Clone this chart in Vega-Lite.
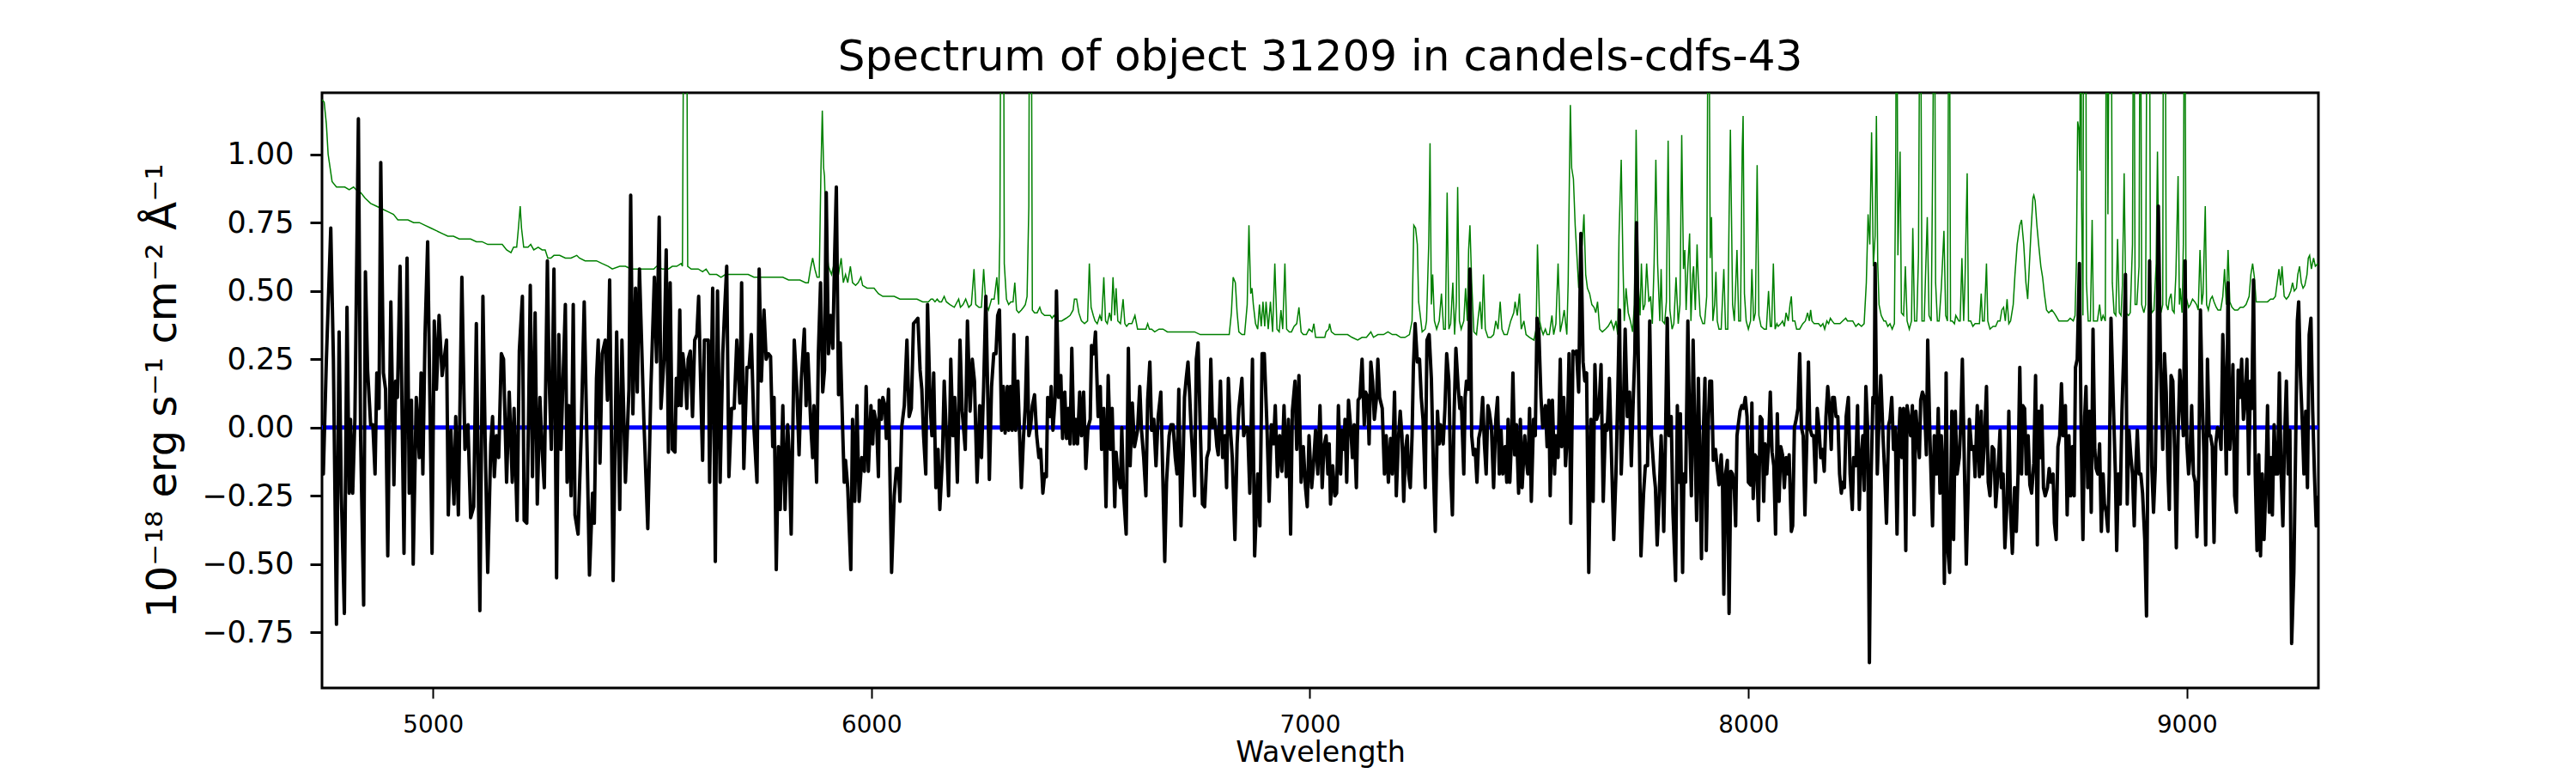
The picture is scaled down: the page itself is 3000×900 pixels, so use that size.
{
  "$schema": "https://vega.github.io/schema/vega-lite/v6.json",
  "autosize": {"type": "none"},
  "width": 2325,
  "height": 693,
  "padding": {"left": 375, "top": 108, "right": 300, "bottom": 99},
  "background": "white",
  "title": {
    "text": "Spectrum of object 31209 in candels-cdfs-43",
    "font": "DejaVu Sans",
    "fontSize": 50,
    "fontWeight": "normal",
    "color": "#000000",
    "anchor": "middle",
    "baseline": "alphabetic",
    "offset": -24
  },
  "config": {
    "font": "DejaVu Sans",
    "view": {"stroke": "#000000", "strokeWidth": 3},
    "axis": {
      "grid": false,
      "domain": false,
      "labelColor": "#000000",
      "tickColor": "#000000",
      "titleColor": "#000000",
      "labelFont": "DejaVu Sans",
      "titleFont": "DejaVu Sans",
      "titleFontWeight": "normal",
      "labelOverlap": false,
      "labelBound": false,
      "labelFlush": false
    },
    "axisX": {"labelFontSize": 27.8, "tickSize": 12, "tickWidth": 2, "labelPadding": 17, "titleFontSize": 33.3, "titlePadding": 3},
    "axisY": {"labelFontSize": 35, "tickSize": 14, "tickWidth": 3, "labelPadding": 19, "titleFontSize": 48, "titlePadding": 20}
  },
  "datasets": {
    "noise": [
      {"wave":4747,"noise":1.20},{"wave":4752,"noise":1.19},{"wave":4757,"noise":1.11},{"wave":4761,"noise":1.00},{"wave":4770,"noise":0.90},{"wave":4780,"noise":0.88},{"wave":4789,"noise":0.88},{"wave":4799,"noise":0.88},{"wave":4809,"noise":0.87},{"wave":4819,"noise":0.88},{"wave":4825,"noise":0.87},{"wave":4835,"noise":0.86},{"wave":4845,"noise":0.84},{"wave":4858,"noise":0.82},{"wave":4871,"noise":0.81},{"wave":4884,"noise":0.80},{"wave":4897,"noise":0.79},{"wave":4910,"noise":0.78},{"wave":4920,"noise":0.76},{"wave":4930,"noise":0.76},{"wave":4943,"noise":0.76},{"wave":4956,"noise":0.75},{"wave":4969,"noise":0.75},{"wave":4982,"noise":0.74},{"wave":4995,"noise":0.73},{"wave":5008,"noise":0.72},{"wave":5021,"noise":0.71},{"wave":5034,"noise":0.70},{"wave":5047,"noise":0.70},{"wave":5060,"noise":0.69},{"wave":5073,"noise":0.69},{"wave":5086,"noise":0.69},{"wave":5099,"noise":0.68},{"wave":5112,"noise":0.68},{"wave":5125,"noise":0.67},{"wave":5139,"noise":0.67},{"wave":5158,"noise":0.67},{"wave":5168,"noise":0.65},{"wave":5178,"noise":0.64},{"wave":5184,"noise":0.66},{"wave":5191,"noise":0.66},{"wave":5195,"noise":0.73},{"wave":5199,"noise":0.81},{"wave":5202,"noise":0.73},{"wave":5207,"noise":0.66},{"wave":5217,"noise":0.66},{"wave":5223,"noise":0.67},{"wave":5230,"noise":0.65},{"wave":5240,"noise":0.66},{"wave":5249,"noise":0.65},{"wave":5256,"noise":0.65},{"wave":5262,"noise":0.62},{"wave":5269,"noise":0.62},{"wave":5276,"noise":0.63},{"wave":5289,"noise":0.63},{"wave":5302,"noise":0.62},{"wave":5315,"noise":0.62},{"wave":5328,"noise":0.63},{"wave":5334,"noise":0.62},{"wave":5347,"noise":0.61},{"wave":5360,"noise":0.61},{"wave":5373,"noise":0.61},{"wave":5386,"noise":0.60},{"wave":5400,"noise":0.59},{"wave":5409,"noise":0.58},{"wave":5426,"noise":0.59},{"wave":5439,"noise":0.59},{"wave":5452,"noise":0.58},{"wave":5465,"noise":0.58},{"wave":5478,"noise":0.58},{"wave":5491,"noise":0.58},{"wave":5504,"noise":0.58},
      {"wave":5510,"noise":0.59},{"wave":5523,"noise":0.58},{"wave":5537,"noise":0.58},{"wave":5546,"noise":0.59},{"wave":5556,"noise":0.59},{"wave":5566,"noise":0.60},{"wave":5569,"noise":0.59},{"wave":5573,"noise":2.0},{"wave":5578,"noise":2.0},{"wave":5581,"noise":0.59},{"wave":5589,"noise":0.58},{"wave":5595,"noise":0.58},{"wave":5605,"noise":0.58},{"wave":5615,"noise":0.57},{"wave":5623,"noise":0.58},{"wave":5631,"noise":0.56},{"wave":5641,"noise":0.56},{"wave":5647,"noise":0.56},{"wave":5657,"noise":0.55},{"wave":5667,"noise":0.56},{"wave":5680,"noise":0.56},{"wave":5693,"noise":0.56},{"wave":5706,"noise":0.56},{"wave":5719,"noise":0.56},{"wave":5732,"noise":0.55},{"wave":5745,"noise":0.55},{"wave":5758,"noise":0.55},{"wave":5771,"noise":0.55},{"wave":5784,"noise":0.55},{"wave":5798,"noise":0.55},{"wave":5811,"noise":0.54},{"wave":5824,"noise":0.54},{"wave":5837,"noise":0.54},{"wave":5850,"noise":0.53},{"wave":5856,"noise":0.53},{"wave":5861,"noise":0.58},{"wave":5866,"noise":0.62},{"wave":5871,"noise":0.58},{"wave":5876,"noise":0.55},{"wave":5881,"noise":0.55},{"wave":5885,"noise":0.95},{"wave":5888,"noise":1.16},{"wave":5891,"noise":0.95},{"wave":5893,"noise":0.92},{"wave":5897,"noise":0.67},{"wave":5902,"noise":0.59},{"wave":5909,"noise":0.56},{"wave":5915,"noise":0.60},{"wave":5920,"noise":0.55},{"wave":5925,"noise":0.56},{"wave":5931,"noise":0.62},{"wave":5936,"noise":0.53},{"wave":5941,"noise":0.56},{"wave":5946,"noise":0.53},{"wave":5952,"noise":0.59},{"wave":5957,"noise":0.53},{"wave":5964,"noise":0.52},{"wave":5970,"noise":0.53},{"wave":5976,"noise":0.55},{"wave":5980,"noise":0.52},{"wave":5990,"noise":0.51},{"wave":6000,"noise":0.51},{"wave":6006,"noise":0.51},{"wave":6016,"noise":0.49},{"wave":6026,"noise":0.48},{"wave":6039,"noise":0.48},{"wave":6052,"noise":0.48},{"wave":6065,"noise":0.47},{"wave":6078,"noise":0.47},{"wave":6091,"noise":0.47},{"wave":6104,"noise":0.47},{"wave":6117,"noise":0.46},{"wave":6130,"noise":0.46},{"wave":6136,"noise":0.47},{"wave":6140,"noise":0.47},{"wave":6145,"noise":0.46},{"wave":6150,"noise":0.47},{"wave":6155,"noise":0.46},{"wave":6160,"noise":0.46},{"wave":6166,"noise":0.48},{"wave":6171,"noise":0.46},{"wave":6179,"noise":0.45},{"wave":6189,"noise":0.44},{"wave":6199,"noise":0.47},{"wave":6203,"noise":0.44},{"wave":6209,"noise":0.45},{"wave":6215,"noise":0.47},{"wave":6222,"noise":0.44},{"wave":6228,"noise":0.45},{"wave":6234,"noise":0.58},{"wave":6238,"noise":0.45},{"wave":6245,"noise":0.44},{"wave":6251,"noise":0.44},{"wave":6256,"noise":0.58},{"wave":6261,"noise":0.45},{"wave":6267,"noise":0.43},
      {"wave":6274,"noise":0.47},{"wave":6280,"noise":0.47},{"wave":6286,"noise":0.55},{"wave":6290,"noise":0.45},{"wave":6293,"noise":0.70},{"wave":6296,"noise":2.0},{"wave":6301,"noise":2.0},{"wave":6303,"noise":0.60},{"wave":6308,"noise":0.47},{"wave":6313,"noise":0.45},{"wave":6318,"noise":0.46},{"wave":6323,"noise":0.46},{"wave":6327,"noise":0.53},{"wave":6331,"noise":0.43},{"wave":6336,"noise":0.42},{"wave":6342,"noise":0.43},{"wave":6347,"noise":0.44},{"wave":6351,"noise":0.45},{"wave":6355,"noise":0.48},{"wave":6359,"noise":0.81},{"wave":6361,"noise":2.0},{"wave":6364,"noise":2.0},{"wave":6367,"noise":0.43},{"wave":6372,"noise":0.42},{"wave":6378,"noise":0.42},{"wave":6384,"noise":0.44},{"wave":6388,"noise":0.42},{"wave":6395,"noise":0.41},{"wave":6401,"noise":0.41},{"wave":6408,"noise":0.41},{"wave":6412,"noise":0.40},{"wave":6416,"noise":0.41},{"wave":6424,"noise":0.39},{"wave":6434,"noise":0.39},{"wave":6444,"noise":0.40},{"wave":6453,"noise":0.41},{"wave":6460,"noise":0.43},{"wave":6463,"noise":0.47},{"wave":6468,"noise":0.47},{"wave":6473,"noise":0.42},{"wave":6479,"noise":0.39},{"wave":6486,"noise":0.38},{"wave":6493,"noise":0.39},{"wave":6497,"noise":0.60},{"wave":6501,"noise":0.44},{"wave":6506,"noise":0.41},{"wave":6510,"noise":0.39},{"wave":6515,"noise":0.38},{"wave":6521,"noise":0.41},{"wave":6525,"noise":0.39},{"wave":6530,"noise":0.55},{"wave":6534,"noise":0.39},{"wave":6538,"noise":0.38},{"wave":6543,"noise":0.42},{"wave":6547,"noise":0.39},{"wave":6551,"noise":0.55},{"wave":6555,"noise":0.41},{"wave":6558,"noise":0.51},{"wave":6562,"noise":0.39},{"wave":6568,"noise":0.38},{"wave":6574,"noise":0.47},{"wave":6578,"noise":0.38},{"wave":6582,"noise":0.37},{"wave":6587,"noise":0.38},{"wave":6594,"noise":0.38},{"wave":6601,"noise":0.41},{"wave":6607,"noise":0.36},{"wave":6613,"noise":0.36},{"wave":6620,"noise":0.36},{"wave":6626,"noise":0.36},{"wave":6630,"noise":0.38},{"wave":6634,"noise":0.36},{"wave":6639,"noise":0.36},{"wave":6646,"noise":0.35},{"wave":6656,"noise":0.36},{"wave":6665,"noise":0.36},{"wave":6675,"noise":0.35},{"wave":6685,"noise":0.35},{"wave":6698,"noise":0.35},{"wave":6711,"noise":0.35},{"wave":6724,"noise":0.35},{"wave":6737,"noise":0.35},{"wave":6750,"noise":0.34},{"wave":6763,"noise":0.34},{"wave":6776,"noise":0.34},{"wave":6789,"noise":0.34},{"wave":6802,"noise":0.34},{"wave":6816,"noise":0.34},{"wave":6821,"noise":0.42},{"wave":6825,"noise":0.55},{"wave":6830,"noise":0.53},{"wave":6834,"noise":0.42},{"wave":6838,"noise":0.35},{"wave":6845,"noise":0.34},{"wave":6851,"noise":0.34},{"wave":6857,"noise":0.45},{"wave":6861,"noise":0.74},{"wave":6865,"noise":0.49},{"wave":6868,"noise":0.51},{"wave":6871,"noise":0.45},{"wave":6876,"noise":0.38},{"wave":6881,"noise":0.36},{"wave":6885,"noise":0.45},{"wave":6889,"noise":0.37},{"wave":6893,"noise":0.46},{"wave":6897,"noise":0.37},{"wave":6900,"noise":0.46},{"wave":6905,"noise":0.36},{"wave":6910,"noise":0.46},{"wave":6915,"noise":0.35},{"wave":6920,"noise":0.60},{"wave":6925,"noise":0.36},{"wave":6930,"noise":0.35},{"wave":6934,"noise":0.43},{"wave":6938,"noise":0.36},{"wave":6943,"noise":0.60},{"wave":6947,"noise":0.36},{"wave":6953,"noise":0.35},{"wave":6958,"noise":0.35},{"wave":6964,"noise":0.37},{"wave":6970,"noise":0.38},{"wave":6975,"noise":0.44},{"wave":6980,"noise":0.35},{"wave":6985,"noise":0.34},{"wave":6992,"noise":0.34},{"wave":6998,"noise":0.36},{"wave":7005,"noise":0.35},{"wave":7009,"noise":0.38},{"wave":7013,"noise":0.33},{"wave":7021,"noise":0.33},{"wave":7028,"noise":0.33},{"wave":7034,"noise":0.33},
      {"wave":7037,"noise":0.35},{"wave":7043,"noise":0.36},{"wave":7045,"noise":0.38},{"wave":7049,"noise":0.35},{"wave":7057,"noise":0.34},{"wave":7067,"noise":0.34},{"wave":7077,"noise":0.34},{"wave":7086,"noise":0.34},{"wave":7096,"noise":0.33},{"wave":7109,"noise":0.32},{"wave":7119,"noise":0.33},{"wave":7129,"noise":0.33},{"wave":7139,"noise":0.35},{"wave":7145,"noise":0.33},{"wave":7155,"noise":0.34},{"wave":7168,"noise":0.34},{"wave":7178,"noise":0.35},{"wave":7188,"noise":0.34},{"wave":7197,"noise":0.34},{"wave":7207,"noise":0.33},{"wave":7217,"noise":0.33},{"wave":7227,"noise":0.34},{"wave":7233,"noise":0.39},{"wave":7237,"noise":0.74},{"wave":7241,"noise":0.73},{"wave":7245,"noise":0.67},{"wave":7248,"noise":0.46},{"wave":7251,"noise":0.42},{"wave":7256,"noise":0.35},{"wave":7263,"noise":0.36},{"wave":7266,"noise":0.39},{"wave":7271,"noise":0.67},{"wave":7274,"noise":1.04},{"wave":7277,"noise":0.45},{"wave":7280,"noise":0.56},{"wave":7284,"noise":0.39},{"wave":7289,"noise":0.36},{"wave":7295,"noise":0.39},{"wave":7300,"noise":0.49},{"wave":7305,"noise":0.36},{"wave":7309,"noise":0.36},{"wave":7313,"noise":0.86},{"wave":7317,"noise":0.36},{"wave":7321,"noise":0.38},{"wave":7326,"noise":0.53},{"wave":7330,"noise":0.34},{"wave":7334,"noise":0.46},{"wave":7337,"noise":0.88},{"wave":7341,"noise":0.39},{"wave":7345,"noise":0.36},{"wave":7351,"noise":0.39},{"wave":7355,"noise":0.51},{"wave":7359,"noise":0.39},{"wave":7362,"noise":0.65},{"wave":7365,"noise":0.74},{"wave":7369,"noise":0.53},{"wave":7374,"noise":0.35},{"wave":7380,"noise":0.34},{"wave":7383,"noise":0.39},{"wave":7388,"noise":0.46},{"wave":7392,"noise":0.36},{"wave":7396,"noise":0.56},{"wave":7400,"noise":0.36},{"wave":7406,"noise":0.33},{"wave":7413,"noise":0.33},{"wave":7419,"noise":0.34},{"wave":7424,"noise":0.39},{"wave":7429,"noise":0.36},{"wave":7434,"noise":0.46},{"wave":7438,"noise":0.36},{"wave":7443,"noise":0.34},{"wave":7450,"noise":0.34},{"wave":7458,"noise":0.39},{"wave":7465,"noise":0.42},{"wave":7468,"noise":0.46},{"wave":7473,"noise":0.41},{"wave":7478,"noise":0.49},{"wave":7482,"noise":0.36},{"wave":7488,"noise":0.39},{"wave":7493,"noise":0.34},{"wave":7501,"noise":0.33},{"wave":7511,"noise":0.32},{"wave":7516,"noise":0.36},{"wave":7519,"noise":0.67},{"wave":7524,"noise":0.39},{"wave":7528,"noise":0.36},{"wave":7532,"noise":0.34},{"wave":7537,"noise":0.36},{"wave":7541,"noise":0.34},{"wave":7546,"noise":0.34},{"wave":7552,"noise":0.41},{"wave":7556,"noise":0.34},{"wave":7561,"noise":0.38},{"wave":7566,"noise":0.60},{"wave":7571,"noise":0.35},{"wave":7576,"noise":0.39},{"wave":7580,"noise":0.43},{"wave":7586,"noise":0.34},{"wave":7589,"noise":0.53},{"wave":7592,"noise":0.94},{"wave":7594,"noise":1.18},{"wave":7597,"noise":0.95},{"wave":7601,"noise":0.91},{"wave":7605,"noise":0.74},{"wave":7610,"noise":0.60},{"wave":7613,"noise":0.51},{"wave":7617,"noise":0.62},{"wave":7621,"noise":0.67},{"wave":7625,"noise":0.78},{"wave":7629,"noise":0.56},{"wave":7633,"noise":0.51},{"wave":7638,"noise":0.49},{"wave":7643,"noise":0.45},{"wave":7648,"noise":0.44},{"wave":7652,"noise":0.42},{"wave":7656,"noise":0.46},{"wave":7661,"noise":0.36},{"wave":7667,"noise":0.35},{"wave":7674,"noise":0.36},{"wave":7680,"noise":0.37},{"wave":7687,"noise":0.39},{"wave":7693,"noise":0.36},{"wave":7698,"noise":0.39},{"wave":7702,"noise":0.34},{"wave":7705,"noise":0.70},{"wave":7710,"noise":0.98},{"wave":7714,"noise":0.60},{"wave":7717,"noise":0.39},{"wave":7721,"noise":0.51},{"wave":7726,"noise":0.42},{"wave":7731,"noise":0.39},{"wave":7736,"noise":0.35},{"wave":7740,"noise":0.45},{"wave":7744,"noise":1.09},{"wave":7749,"noise":0.53},{"wave":7753,"noise":0.41},{"wave":7756,"noise":0.60},{"wave":7760,"noise":0.43},{"wave":7764,"noise":0.45},{"wave":7768,"noise":0.60},{"wave":7773,"noise":0.46},{"wave":7777,"noise":0.48},{"wave":7781,"noise":0.38},{"wave":7785,"noise":0.60},{"wave":7789,"noise":0.98},{"wave":7793,"noise":0.60},{"wave":7798,"noise":0.39},
      {"wave":7801,"noise":0.58},{"wave":7804,"noise":0.39},{"wave":7809,"noise":0.38},{"wave":7813,"noise":0.46},{"wave":7817,"noise":1.05},{"wave":7821,"noise":0.43},{"wave":7826,"noise":0.36},{"wave":7830,"noise":0.38},{"wave":7835,"noise":0.55},{"wave":7840,"noise":0.38},{"wave":7844,"noise":0.45},{"wave":7848,"noise":1.07},{"wave":7852,"noise":0.58},{"wave":7855,"noise":0.65},{"wave":7858,"noise":0.43},{"wave":7862,"noise":0.59},{"wave":7866,"noise":0.71},{"wave":7869,"noise":0.39},{"wave":7873,"noise":0.56},{"wave":7875,"noise":0.59},{"wave":7879,"noise":0.43},{"wave":7883,"noise":0.67},{"wave":7886,"noise":0.53},{"wave":7890,"noise":0.41},{"wave":7896,"noise":0.38},{"wave":7900,"noise":0.38},{"wave":7905,"noise":0.48},{"wave":7909,"noise":2.0},{"wave":7913,"noise":0.62},{"wave":7916,"noise":0.77},{"wave":7919,"noise":0.39},{"wave":7923,"noise":0.45},{"wave":7926,"noise":0.57},{"wave":7929,"noise":0.39},{"wave":7933,"noise":0.36},{"wave":7938,"noise":0.36},{"wave":7944,"noise":0.58},{"wave":7948,"noise":0.36},{"wave":7953,"noise":0.36},{"wave":7956,"noise":0.77},{"wave":7959,"noise":1.09},{"wave":7964,"noise":0.45},{"wave":7968,"noise":0.39},{"wave":7972,"noise":0.56},{"wave":7974,"noise":0.65},{"wave":7978,"noise":0.39},{"wave":7982,"noise":0.39},{"wave":7986,"noise":1.02},{"wave":7988,"noise":1.14},{"wave":7991,"noise":0.49},{"wave":7995,"noise":0.39},{"wave":8000,"noise":0.36},{"wave":8005,"noise":0.39},{"wave":8008,"noise":0.58},{"wave":8012,"noise":0.39},{"wave":8016,"noise":0.42},{"wave":8020,"noise":0.96},{"wave":8024,"noise":0.41},{"wave":8029,"noise":0.37},{"wave":8036,"noise":0.36},{"wave":8041,"noise":0.36},{"wave":8046,"noise":0.50},{"wave":8050,"noise":0.37},{"wave":8053,"noise":0.37},{"wave":8057,"noise":0.60},{"wave":8061,"noise":0.36},{"wave":8065,"noise":0.38},{"wave":8068,"noise":0.37},{"wave":8074,"noise":0.38},{"wave":8078,"noise":0.39},{"wave":8082,"noise":0.37},{"wave":8086,"noise":0.42},{"wave":8091,"noise":0.39},{"wave":8095,"noise":0.45},{"wave":8098,"noise":0.48},{"wave":8101,"noise":0.39},{"wave":8106,"noise":0.39},{"wave":8110,"noise":0.36},{"wave":8117,"noise":0.36},{"wave":8124,"noise":0.38},{"wave":8130,"noise":0.39},{"wave":8135,"noise":0.42},{"wave":8139,"noise":0.39},{"wave":8142,"noise":0.43},{"wave":8145,"noise":0.39},{"wave":8150,"noise":0.38},{"wave":8155,"noise":0.38},{"wave":8160,"noise":0.38},{"wave":8165,"noise":0.37},{"wave":8170,"noise":0.38},{"wave":8174,"noise":0.36},{"wave":8179,"noise":0.39},{"wave":8183,"noise":0.38},{"wave":8187,"noise":0.40},{"wave":8191,"noise":0.39},{"wave":8196,"noise":0.38},{"wave":8202,"noise":0.38},{"wave":8209,"noise":0.38},{"wave":8215,"noise":0.39},{"wave":8222,"noise":0.40},{"wave":8226,"noise":0.39},{"wave":8232,"noise":0.39},{"wave":8238,"noise":0.39},{"wave":8245,"noise":0.37},{"wave":8251,"noise":0.38},{"wave":8258,"noise":0.37},{"wave":8264,"noise":0.38},{"wave":8269,"noise":0.53},{"wave":8273,"noise":0.78},{"wave":8277,"noise":0.67},{"wave":8281,"noise":1.08},{"wave":8285,"noise":0.59},{"wave":8289,"noise":0.70},{"wave":8292,"noise":1.14},{"wave":8295,"noise":0.60},{"wave":8298,"noise":0.45},{"wave":8303,"noise":0.41},{"wave":8309,"noise":0.39},{"wave":8313,"noise":0.39},{"wave":8318,"noise":0.37},{"wave":8323,"noise":0.38},{"wave":8328,"noise":0.36},{"wave":8333,"noise":0.38},{"wave":8336,"noise":0.95},{"wave":8338,"noise":2.0},{"wave":8341,"noise":0.63},{"wave":8346,"noise":1.01},{"wave":8349,"noise":0.42},{"wave":8354,"noise":0.41},{"wave":8358,"noise":0.59},{"wave":8362,"noise":0.39},{"wave":8367,"noise":0.36},{"wave":8372,"noise":0.39},{"wave":8375,"noise":0.73},{"wave":8379,"noise":0.39},{"wave":8384,"noise":0.39},{"wave":8388,"noise":0.63},{"wave":8392,"noise":2.0},{"wave":8396,"noise":0.39},{"wave":8401,"noise":0.39},{"wave":8405,"noise":0.61},{"wave":8408,"noise":0.77},{"wave":8412,"noise":0.41},{"wave":8417,"noise":0.39},{"wave":8421,"noise":1.09},{"wave":8424,"noise":2.0},{"wave":8427,"noise":0.53},{"wave":8431,"noise":0.39},{"wave":8435,"noise":0.39},{"wave":8440,"noise":0.51},{"wave":8446,"noise":0.72},{"wave":8450,"noise":0.41},{"wave":8454,"noise":0.39},{"wave":8458,"noise":2.0},{"wave":8461,"noise":0.39},{"wave":8465,"noise":0.39},{"wave":8470,"noise":0.38},{"wave":8473,"noise":0.41},{"wave":8480,"noise":0.39},{"wave":8483,"noise":0.39},{"wave":8487,"noise":0.62},{"wave":8491,"noise":0.39},{"wave":8494,"noise":0.53},{"wave":8499,"noise":0.93},{"wave":8502,"noise":0.39},{"wave":8507,"noise":0.39},{"wave":8512,"noise":0.37},{"wave":8517,"noise":0.38},{"wave":8522,"noise":0.38},{"wave":8527,"noise":0.38},{"wave":8531,"noise":0.49},{"wave":8534,"noise":0.39},{"wave":8538,"noise":0.39},{"wave":8543,"noise":0.60},{"wave":8546,"noise":0.39},{"wave":8551,"noise":0.36},{"wave":8558,"noise":0.37},{"wave":8564,"noise":0.37},{"wave":8569,"noise":0.39},
      {"wave":8574,"noise":0.39},{"wave":8578,"noise":0.43},{"wave":8582,"noise":0.44},{"wave":8586,"noise":0.39},{"wave":8590,"noise":0.47},{"wave":8594,"noise":0.38},{"wave":8598,"noise":0.39},{"wave":8604,"noise":0.45},{"wave":8608,"noise":0.56},{"wave":8613,"noise":0.67},{"wave":8619,"noise":0.74},{"wave":8623,"noise":0.76},{"wave":8628,"noise":0.67},{"wave":8633,"noise":0.53},{"wave":8637,"noise":0.47},{"wave":8641,"noise":0.60},{"wave":8645,"noise":0.73},{"wave":8649,"noise":0.84},{"wave":8651,"noise":0.85},{"wave":8654,"noise":0.83},{"wave":8658,"noise":0.74},{"wave":8662,"noise":0.67},{"wave":8667,"noise":0.59},{"wave":8671,"noise":0.55},{"wave":8675,"noise":0.49},{"wave":8680,"noise":0.43},{"wave":8685,"noise":0.42},{"wave":8692,"noise":0.43},{"wave":8697,"noise":0.42},{"wave":8701,"noise":0.41},{"wave":8708,"noise":0.39},{"wave":8714,"noise":0.39},{"wave":8721,"noise":0.39},{"wave":8728,"noise":0.39},{"wave":8734,"noise":0.40},{"wave":8741,"noise":0.39},{"wave":8745,"noise":0.41},{"wave":8748,"noise":0.60},{"wave":8751,"noise":1.12},{"wave":8754,"noise":1.09},{"wave":8756,"noise":0.94},{"wave":8758,"noise":2.0},{"wave":8760,"noise":0.81},{"wave":8763,"noise":0.41},{"wave":8765,"noise":2.0},{"wave":8769,"noise":2.0},{"wave":8771,"noise":0.53},{"wave":8775,"noise":0.39},{"wave":8780,"noise":0.39},{"wave":8784,"noise":0.76},{"wave":8787,"noise":0.39},{"wave":8791,"noise":0.39},{"wave":8796,"noise":0.39},{"wave":8801,"noise":0.45},{"wave":8805,"noise":0.39},{"wave":8809,"noise":0.41},{"wave":8814,"noise":0.39},{"wave":8817,"noise":2.0},{"wave":8820,"noise":0.78},{"wave":8824,"noise":2.0},{"wave":8827,"noise":2.0},{"wave":8830,"noise":0.53},{"wave":8834,"noise":0.42},{"wave":8838,"noise":0.41},{"wave":8842,"noise":0.69},{"wave":8846,"noise":0.42},{"wave":8850,"noise":0.41},{"wave":8853,"noise":0.52},{"wave":8857,"noise":0.93},{"wave":8861,"noise":0.42},{"wave":8867,"noise":0.41},{"wave":8871,"noise":0.42},{"wave":8876,"noise":0.67},{"wave":8879,"noise":2.0},{"wave":8882,"noise":0.45},{"wave":8886,"noise":0.45},{"wave":8891,"noise":0.59},{"wave":8894,"noise":2.0},{"wave":8897,"noise":0.45},{"wave":8902,"noise":0.42},{"wave":8906,"noise":0.45},{"wave":8910,"noise":2.0},{"wave":8914,"noise":2.0},{"wave":8917,"noise":0.53},{"wave":8920,"noise":0.42},{"wave":8925,"noise":0.43},{"wave":8930,"noise":0.60},{"wave":8933,"noise":1.01},{"wave":8937,"noise":0.45},{"wave":8941,"noise":0.42},{"wave":8945,"noise":0.45},{"wave":8947,"noise":2.0},{"wave":8950,"noise":2.0},{"wave":8953,"noise":0.45},{"wave":8957,"noise":0.43},{"wave":8960,"noise":0.47},{"wave":8964,"noise":0.49},{"wave":8967,"noise":0.43},{"wave":8971,"noise":0.42},{"wave":8975,"noise":0.56},{"wave":8980,"noise":0.92},{"wave":8983,"noise":0.45},{"wave":8985,"noise":0.51},{"wave":8989,"noise":0.42},{"wave":8992,"noise":0.67},{"wave":8995,"noise":2.0},{"wave":8998,"noise":0.48},{"wave":9004,"noise":0.44},{"wave":9008,"noise":0.45},{"wave":9013,"noise":0.47},{"wave":9018,"noise":0.46},{"wave":9022,"noise":0.45},{"wave":9026,"noise":0.43},{"wave":9030,"noise":0.65},{"wave":9034,"noise":0.45},{"wave":9037,"noise":0.49},{"wave":9042,"noise":0.81},{"wave":9045,"noise":0.45},{"wave":9049,"noise":0.43},{"wave":9054,"noise":0.47},{"wave":9058,"noise":0.48},{"wave":9062,"noise":0.46},{"wave":9067,"noise":0.44},{"wave":9071,"noise":0.43},{"wave":9077,"noise":0.43},{"wave":9082,"noise":0.48},{"wave":9086,"noise":0.58},{"wave":9090,"noise":0.45},{"wave":9094,"noise":0.65},{"wave":9098,"noise":0.46},{"wave":9103,"noise":0.44},{"wave":9109,"noise":0.43},{"wave":9116,"noise":0.43},{"wave":9122,"noise":0.44},{"wave":9129,"noise":0.44},{"wave":9135,"noise":0.45},{"wave":9142,"noise":0.48},{"wave":9146,"noise":0.56},{"wave":9150,"noise":0.60},{"wave":9154,"noise":0.55},{"wave":9158,"noise":0.46},{"wave":9165,"noise":0.46},{"wave":9171,"noise":0.46},{"wave":9178,"noise":0.46},{"wave":9184,"noise":0.46},{"wave":9191,"noise":0.47},{"wave":9197,"noise":0.47},{"wave":9202,"noise":0.48},{"wave":9206,"noise":0.53},{"wave":9210,"noise":0.58},{"wave":9214,"noise":0.52},{"wave":9217,"noise":0.59},{"wave":9222,"noise":0.48},{"wave":9227,"noise":0.47},{"wave":9232,"noise":0.48},{"wave":9237,"noise":0.50},{"wave":9241,"noise":0.53},{"wave":9245,"noise":0.50},{"wave":9250,"noise":0.51},{"wave":9253,"noise":0.56},{"wave":9257,"noise":0.59},{"wave":9261,"noise":0.53},{"wave":9265,"noise":0.51},{"wave":9269,"noise":0.52},{"wave":9274,"noise":0.56},{"wave":9277,"noise":0.62},{"wave":9280,"noise":0.63},{"wave":9284,"noise":0.58},{"wave":9289,"noise":0.62},{"wave":9293,"noise":0.59},{"wave":9299,"noise":0.60}
    ],
    "flux": [
      {"wave":4747,"flux":-0.11},{"wave":4750,"flux":-0.17},{"wave":4757,"flux":0.25},{"wave":4767,"flux":0.73},{"wave":4773,"flux":0.25},{"wave":4780,"flux":-0.72},{"wave":4786,"flux":0.35},{"wave":4791,"flux":-0.24},{"wave":4798,"flux":-0.68},{"wave":4804,"flux":0.44},{"wave":4809,"flux":-0.24},{"wave":4812,"flux":0.03},{"wave":4817,"flux":-0.24},{"wave":4822,"flux":0.03},{"wave":4830,"flux":1.13},{"wave":4835,"flux":-0.03},{"wave":4842,"flux":-0.65},{"wave":4846,"flux":0.57},{"wave":4851,"flux":0.21},{"wave":4858,"flux":0.01},{"wave":4863,"flux":0.01},{"wave":4868,"flux":-0.17},{"wave":4872,"flux":0.20},{"wave":4877,"flux":0.07},{"wave":4881,"flux":0.97},{"wave":4887,"flux":0.20},{"wave":4892,"flux":0.14},{"wave":4897,"flux":-0.47},{"wave":4904,"flux":0.46},{"wave":4911,"flux":-0.21},{"wave":4915,"flux":0.17},{"wave":4919,"flux":0.11},{"wave":4925,"flux":0.59},{"wave":4934,"flux":-0.46},{"wave":4941,"flux":0.62},{"wave":4946,"flux":-0.24},{"wave":4951,"flux":0.10},{"wave":4955,"flux":-0.50},{"wave":4962,"flux":0.11},{"wave":4969,"flux":-0.11},{"wave":4973,"flux":0.20},{"wave":4977,"flux":-0.17},{"wave":4982,"flux":0.34},{"wave":4988,"flux":0.68},{"wave":4998,"flux":-0.46},{"wave":5003,"flux":0.39},{"wave":5008,"flux":0.14},{"wave":5014,"flux":0.41},{"wave":5021,"flux":0.19},{"wave":5031,"flux":0.32},{"wave":5035,"flux":-0.32},{"wave":5041,"flux":-0.01},{"wave":5048,"flux":-0.28},{"wave":5052,"flux":0.04},{"wave":5058,"flux":-0.32},{"wave":5066,"flux":0.55},{"wave":5073,"flux":-0.08},{"wave":5080,"flux":0.01},{"wave":5086,"flux":-0.33},{"wave":5093,"flux":-0.29},{"wave":5099,"flux":0.38},{"wave":5107,"flux":-0.67},{"wave":5114,"flux":0.48},{"wave":5119,"flux":-0.04},{"wave":5125,"flux":-0.53},{"wave":5132,"flux":-0.06},{"wave":5136,"flux":0.04},{"wave":5140,"flux":-0.18},{"wave":5145,"flux":-0.03},{"wave":5150,"flux":-0.11},{"wave":5156,"flux":0.27},{"wave":5161,"flux":0.25},{"wave":5168,"flux":-0.20},{"wave":5174,"flux":0.13},{"wave":5181,"flux":-0.20},{"wave":5185,"flux":0.07},{"wave":5192,"flux":-0.34},{"wave":5197,"flux":0.28},{"wave":5204,"flux":0.48},{"wave":5208,"flux":-0.34},{"wave":5214,"flux":-0.35},{"wave":5218,"flux":0.03},{"wave":5222,"flux":0.52},{"wave":5227,"flux":-0.18},{"wave":5233,"flux":0.42},{"wave":5238,"flux":-0.28},{"wave":5244,"flux":0.11},{"wave":5249,"flux":-0.08},{"wave":5254,"flux":-0.22},{"wave":5261,"flux":0.61},{"wave":5265,"flux":0.18},{"wave":5270,"flux":-0.08},{"wave":5276,"flux":0.58},{"wave":5282,"flux":-0.55},{"wave":5287,"flux":0.34},{"wave":5292,"flux":-0.08},{"wave":5296,"flux":0.14},{"wave":5302,"flux":0.45},{"wave":5306,"flux":-0.20},{"wave":5310,"flux":0.08},{"wave":5315,"flux":-0.25},{"wave":5320,"flux":0.45},{"wave":5324,"flux":-0.32},{"wave":5331,"flux":-0.39},{"wave":5338,"flux":-0.03},{"wave":5345,"flux":0.46},{"wave":5351,"flux":-0.03},{"wave":5357,"flux":-0.54},{"wave":5364,"flux":-0.24},{"wave":5368,"flux":-0.35},{"wave":5373,"flux":0.18},{"wave":5377,"flux":0.32},{"wave":5381,"flux":-0.13},{"wave":5386,"flux":0.27},{"wave":5393,"flux":0.32},{"wave":5398,"flux":0.10},{"wave":5403,"flux":0.54},{"wave":5411,"flux":-0.56},{"wave":5419,"flux":0.35},{"wave":5426,"flux":-0.30},{"wave":5431,"flux":0.32},{"wave":5439,"flux":-0.20},{"wave":5447,"flux":0.14},{"wave":5451,"flux":0.85},{"wave":5456,"flux":0.05},{"wave":5462,"flux":0.51},{"wave":5466,"flux":0.13},{"wave":5471,"flux":0.58},{"wave":5481,"flux":0.03},{"wave":5490,"flux":-0.37},{"wave":5497,"flux":0.14},{"wave":5505,"flux":0.55},
      {"wave":5510,"flux":0.24},{"wave":5516,"flux":0.77},{"wave":5520,"flux":0.07},{"wave":5527,"flux":0.25},{"wave":5532,"flux":0.65},{"wave":5537,"flux":-0.09},{"wave":5541,"flux":0.53},{"wave":5546,"flux":-0.08},{"wave":5552,"flux":-0.09},{"wave":5555,"flux":0.18},{"wave":5559,"flux":0.08},{"wave":5563,"flux":0.43},{"wave":5566,"flux":0.08},{"wave":5570,"flux":0.27},{"wave":5576,"flux":0.17},{"wave":5579,"flux":0.07},{"wave":5582,"flux":0.25},{"wave":5587,"flux":0.28},{"wave":5592,"flux":0.04},{"wave":5597,"flux":0.32},{"wave":5602,"flux":0.34},{"wave":5606,"flux":0.48},{"wave":5612,"flux":0.06},{"wave":5615,"flux":-0.12},{"wave":5619,"flux":0.32},{"wave":5625,"flux":0.32},{"wave":5628,"flux":0.32},{"wave":5631,"flux":-0.20},{"wave":5638,"flux":0.51},{"wave":5644,"flux":-0.49},{"wave":5649,"flux":0.50},{"wave":5655,"flux":-0.20},{"wave":5661,"flux":0.27},{"wave":5665,"flux":0.42},{"wave":5670,"flux":0.59},{"wave":5675,"flux":-0.18},{"wave":5681,"flux":0.07},{"wave":5687,"flux":0.07},{"wave":5693,"flux":0.32},{"wave":5700,"flux":0.09},{"wave":5704,"flux":0.53},{"wave":5709,"flux":-0.15},{"wave":5716,"flux":0.22},{"wave":5721,"flux":0.22},{"wave":5726,"flux":0.34},{"wave":5732,"flux":0.00},{"wave":5739,"flux":-0.20},{"wave":5744,"flux":0.58},{"wave":5749,"flux":0.17},{"wave":5755,"flux":0.43},{"wave":5760,"flux":0.25},{"wave":5765,"flux":0.27},{"wave":5770,"flux":0.26},{"wave":5775,"flux":-0.07},{"wave":5778,"flux":0.11},{"wave":5783,"flux":-0.52},{"wave":5788,"flux":-0.07},{"wave":5792,"flux":-0.30},{"wave":5798,"flux":0.08},{"wave":5803,"flux":-0.30},{"wave":5809,"flux":0.01},{"wave":5812,"flux":-0.08},{"wave":5817,"flux":-0.39},{"wave":5824,"flux":0.32},{"wave":5830,"flux":0.14},{"wave":5835,"flux":-0.10},{"wave":5840,"flux":0.17},{"wave":5847,"flux":0.36},{"wave":5851,"flux":0.08},{"wave":5855,"flux":0.27},{"wave":5862,"flux":0.00},{"wave":5866,"flux":-0.11},{"wave":5869,"flux":0.08},{"wave":5875,"flux":-0.20},{"wave":5879,"flux":0.27},{"wave":5884,"flux":0.53},{"wave":5889,"flux":0.13},{"wave":5893,"flux":0.21},{"wave":5897,"flux":0.86},{"wave":5902,"flux":0.27},{"wave":5907,"flux":0.41},{"wave":5912,"flux":0.29},{"wave":5916,"flux":0.62},{"wave":5920,"flux":0.88},{"wave":5925,"flux":0.12},{"wave":5929,"flux":0.31},{"wave":5935,"flux":-0.04},{"wave":5938,"flux":-0.20},{"wave":5941,"flux":-0.12},{"wave":5946,"flux":-0.22},{"wave":5953,"flux":-0.52},{"wave":5957,"flux":0.03},{"wave":5962,"flux":-0.27},{"wave":5967,"flux":0.08},{"wave":5972,"flux":-0.27},{"wave":5978,"flux":-0.11},{"wave":5984,"flux":-0.16},{"wave":5988,"flux":0.15},{"wave":5993,"flux":-0.16},{"wave":5999,"flux":0.08},{"wave":6003,"flux":-0.06},{"wave":6006,"flux":0.06},{"wave":6012,"flux":0.01},{"wave":6016,"flux":-0.18},{"wave":6018,"flux":0.10},{"wave":6023,"flux":0.03},{"wave":6026,"flux":0.11},{"wave":6031,"flux":0.08},{"wave":6034,"flux":-0.04},{"wave":6039,"flux":0.14},{"wave":6046,"flux":-0.53},{"wave":6052,"flux":-0.25},{"wave":6057,"flux":-0.15},{"wave":6062,"flux":-0.15},{"wave":6065,"flux":-0.27},{"wave":6069,"flux":0.00},{"wave":6075,"flux":0.08},{"wave":6081,"flux":0.32},{"wave":6086,"flux":0.04},{"wave":6091,"flux":0.07},{"wave":6096,"flux":0.38},{"wave":6101,"flux":0.39},{"wave":6106,"flux":0.40},{"wave":6111,"flux":0.21},{"wave":6115,"flux":0.14},{"wave":6119,"flux":-0.03},{"wave":6124,"flux":-0.17},{"wave":6128,"flux":0.45},{"wave":6134,"flux":0.08},{"wave":6138,"flux":-0.03},{"wave":6142,"flux":0.20},{"wave":6147,"flux":-0.22},{"wave":6152,"flux":-0.08},{"wave":6156,"flux":-0.30},{"wave":6162,"flux":-0.11},{"wave":6166,"flux":0.17},{"wave":6171,"flux":-0.03},{"wave":6176,"flux":-0.25},{"wave":6181,"flux":0.25},{"wave":6186,"flux":-0.03},{"wave":6190,"flux":0.11},{"wave":6196,"flux":-0.20},{"wave":6202,"flux":0.32},{"wave":6207,"flux":0.06},{"wave":6214,"flux":-0.08},{"wave":6219,"flux":0.39},{"wave":6225,"flux":0.06},{"wave":6230,"flux":0.25},{"wave":6235,"flux":0.17},{"wave":6241,"flux":-0.20},{"wave":6247,"flux":0.08},{"wave":6251,"flux":-0.11},{"wave":6256,"flux":0.15},{"wave":6261,"flux":0.48},{"wave":6269,"flux":-0.19},
      {"wave":6274,"flux":0.15},{"wave":6279,"flux":0.27},{"wave":6284,"flux":0.27},{"wave":6288,"flux":0.41},{"wave":6292,"flux":0.43},{"wave":6297,"flux":-0.01},{"wave":6301,"flux":0.15},{"wave":6305,"flux":-0.02},{"wave":6310,"flux":0.15},{"wave":6313,"flux":-0.01},{"wave":6317,"flux":0.15},{"wave":6321,"flux":-0.01},{"wave":6325,"flux":0.34},{"wave":6329,"flux":-0.01},{"wave":6334,"flux":0.17},{"wave":6338,"flux":-0.03},{"wave":6342,"flux":-0.22},{"wave":6347,"flux":-0.03},{"wave":6351,"flux":0.08},{"wave":6355,"flux":0.33},{"wave":6359,"flux":-0.03},{"wave":6363,"flux":0.00},{"wave":6367,"flux":0.08},{"wave":6372,"flux":0.12},{"wave":6377,"flux":-0.03},{"wave":6382,"flux":-0.11},{"wave":6386,"flux":-0.08},{"wave":6391,"flux":-0.24},{"wave":6395,"flux":-0.17},{"wave":6399,"flux":-0.18},{"wave":6402,"flux":0.11},{"wave":6407,"flux":0.04},{"wave":6410,"flux":0.15},{"wave":6414,"flux":-0.01},{"wave":6419,"flux":0.11},{"wave":6422,"flux":0.50},{"wave":6427,"flux":0.11},{"wave":6432,"flux":0.19},{"wave":6436,"flux":-0.04},{"wave":6441,"flux":0.13},{"wave":6445,"flux":-0.04},{"wave":6449,"flux":0.07},{"wave":6453,"flux":-0.06},{"wave":6457,"flux":0.29},{"wave":6462,"flux":-0.06},{"wave":6466,"flux":0.03},{"wave":6470,"flux":-0.06},{"wave":6475,"flux":0.13},{"wave":6479,"flux":-0.03},{"wave":6484,"flux":0.13},{"wave":6489,"flux":-0.15},{"wave":6494,"flux":0.00},{"wave":6499,"flux":0.03},{"wave":6502,"flux":0.30},{"wave":6507,"flux":0.27},{"wave":6511,"flux":0.35},{"wave":6517,"flux":0.04},{"wave":6522,"flux":0.15},{"wave":6525,"flux":-0.08},{"wave":6530,"flux":0.07},{"wave":6535,"flux":-0.29},{"wave":6540,"flux":0.19},{"wave":6545,"flux":-0.08},{"wave":6549,"flux":0.07},{"wave":6555,"flux":-0.29},{"wave":6558,"flux":-0.09},{"wave":6562,"flux":-0.17},{"wave":6568,"flux":-0.22},{"wave":6571,"flux":0.00},{"wave":6575,"flux":-0.24},{"wave":6581,"flux":-0.39},{"wave":6586,"flux":0.29},{"wave":6590,"flux":-0.14},{"wave":6595,"flux":0.09},{"wave":6600,"flux":-0.07},{"wave":6607,"flux":-0.01},{"wave":6612,"flux":0.15},{"wave":6616,"flux":-0.01},{"wave":6621,"flux":-0.11},{"wave":6626,"flux":-0.25},{"wave":6630,"flux":0.10},{"wave":6635,"flux":0.24},{"wave":6639,"flux":-0.01},{"wave":6644,"flux":0.03},{"wave":6649,"flux":-0.14},{"wave":6654,"flux":0.04},{"wave":6660,"flux":0.13},{"wave":6664,"flux":-0.14},{"wave":6669,"flux":-0.49},{"wave":6673,"flux":-0.20},{"wave":6679,"flux":-0.03},{"wave":6683,"flux":0.01},{"wave":6688,"flux":0.01},{"wave":6693,"flux":-0.11},{"wave":6697,"flux":-0.17},{"wave":6701,"flux":0.14},{"wave":6706,"flux":-0.36},{"wave":6711,"flux":-0.11},{"wave":6714,"flux":0.11},{"wave":6718,"flux":0.18},{"wave":6722,"flux":0.24},{"wave":6725,"flux":0.15},{"wave":6729,"flux":0.00},{"wave":6733,"flux":-0.11},{"wave":6737,"flux":-0.25},{"wave":6741,"flux":0.25},{"wave":6745,"flux":0.31},{"wave":6750,"flux":0.00},{"wave":6755,"flux":-0.28},{"wave":6760,"flux":-0.29},{"wave":6765,"flux":-0.11},{"wave":6770,"flux":-0.08},{"wave":6774,"flux":0.25},{"wave":6778,"flux":0.00},{"wave":6783,"flux":0.03},{"wave":6788,"flux":-0.07},{"wave":6791,"flux":-0.10},{"wave":6796,"flux":0.17},{"wave":6801,"flux":-0.11},{"wave":6806,"flux":-0.03},{"wave":6810,"flux":-0.22},{"wave":6814,"flux":0.18},{"wave":6819,"flux":-0.01},{"wave":6823,"flux":-0.11},{"wave":6829,"flux":-0.41},{"wave":6834,"flux":-0.06},{"wave":6838,"flux":0.07},{"wave":6845,"flux":0.18},{"wave":6849,"flux":-0.03},{"wave":6853,"flux":0.00},{"wave":6858,"flux":0.00},{"wave":6863,"flux":-0.24},{"wave":6869,"flux":0.25},{"wave":6874,"flux":-0.47},{"wave":6881,"flux":-0.17},{"wave":6886,"flux":-0.36},{"wave":6891,"flux":0.27},{"wave":6896,"flux":0.27},{"wave":6902,"flux":0.01},{"wave":6907,"flux":-0.27},{"wave":6912,"flux":0.01},{"wave":6917,"flux":-0.06},{"wave":6921,"flux":0.08},{"wave":6926,"flux":-0.18},{"wave":6931,"flux":-0.03},{"wave":6936,"flux":-0.16},{"wave":6941,"flux":0.08},{"wave":6946,"flux":-0.18},{"wave":6951,"flux":0.03},{"wave":6956,"flux":-0.39},{"wave":6960,"flux":0.06},{"wave":6966,"flux":0.17},{"wave":6970,"flux":-0.08},{"wave":6975,"flux":0.19},{"wave":6980,"flux":-0.20},{"wave":6985,"flux":-0.07},{"wave":6990,"flux":-0.22},{"wave":6994,"flux":-0.29},{"wave":6998,"flux":-0.03},{"wave":7004,"flux":-0.22},{"wave":7008,"flux":-0.14},{"wave":7013,"flux":-0.01},{"wave":7018,"flux":-0.17},{"wave":7023,"flux":0.08},{"wave":7028,"flux":-0.22},{"wave":7032,"flux":-0.07},
      {"wave":7037,"flux":-0.03},{"wave":7041,"flux":-0.17},{"wave":7044,"flux":-0.06},{"wave":7047,"flux":-0.28},{"wave":7052,"flux":-0.14},{"wave":7057,"flux":-0.25},{"wave":7061,"flux":-0.24},{"wave":7065,"flux":0.08},{"wave":7070,"flux":-0.17},{"wave":7073,"flux":-0.01},{"wave":7078,"flux":-0.08},{"wave":7080,"flux":0.03},{"wave":7084,"flux":-0.20},{"wave":7088,"flux":0.10},{"wave":7093,"flux":0.00},{"wave":7097,"flux":-0.11},{"wave":7101,"flux":0.01},{"wave":7106,"flux":-0.22},{"wave":7110,"flux":0.10},{"wave":7114,"flux":0.11},{"wave":7119,"flux":0.25},{"wave":7124,"flux":0.01},{"wave":7127,"flux":0.13},{"wave":7132,"flux":0.11},{"wave":7135,"flux":-0.06},{"wave":7139,"flux":0.24},{"wave":7143,"flux":0.17},{"wave":7147,"flux":0.03},{"wave":7152,"flux":0.11},{"wave":7155,"flux":0.25},{"wave":7159,"flux":0.11},{"wave":7165,"flux":0.07},{"wave":7170,"flux":-0.17},{"wave":7174,"flux":-0.03},{"wave":7179,"flux":-0.20},{"wave":7184,"flux":-0.04},{"wave":7188,"flux":-0.17},{"wave":7193,"flux":0.13},{"wave":7197,"flux":-0.25},{"wave":7202,"flux":-0.04},{"wave":7206,"flux":0.06},{"wave":7210,"flux":-0.03},{"wave":7214,"flux":-0.27},{"wave":7218,"flux":-0.08},{"wave":7222,"flux":-0.03},{"wave":7225,"flux":-0.17},{"wave":7229,"flux":-0.22},{"wave":7233,"flux":-0.03},{"wave":7236,"flux":0.22},{"wave":7240,"flux":0.38},{"wave":7245,"flux":0.24},{"wave":7250,"flux":0.25},{"wave":7254,"flux":0.11},{"wave":7258,"flux":0.03},{"wave":7263,"flux":-0.22},{"wave":7267,"flux":0.32},{"wave":7272,"flux":0.34},{"wave":7277,"flux":0.18},{"wave":7282,"flux":-0.17},{"wave":7286,"flux":-0.38},{"wave":7291,"flux":0.06},{"wave":7295,"flux":-0.06},{"wave":7298,"flux":0.01},{"wave":7304,"flux":-0.06},{"wave":7308,"flux":0.07},{"wave":7312,"flux":0.27},{"wave":7317,"flux":0.17},{"wave":7321,"flux":-0.17},{"wave":7325,"flux":-0.32},{"wave":7329,"flux":0.06},{"wave":7333,"flux":0.29},{"wave":7338,"flux":0.15},{"wave":7342,"flux":0.07},{"wave":7345,"flux":0.11},{"wave":7351,"flux":-0.17},{"wave":7354,"flux":0.11},{"wave":7357,"flux":0.17},{"wave":7362,"flux":0.14},{"wave":7365,"flux":0.58},{"wave":7369,"flux":-0.03},{"wave":7373,"flux":-0.10},{"wave":7377,"flux":-0.08},{"wave":7381,"flux":-0.20},{"wave":7385,"flux":-0.04},{"wave":7390,"flux":0.00},{"wave":7394,"flux":0.11},{"wave":7398,"flux":-0.06},{"wave":7402,"flux":-0.17},{"wave":7406,"flux":0.08},{"wave":7409,"flux":0.06},{"wave":7414,"flux":0.00},{"wave":7419,"flux":-0.22},{"wave":7424,"flux":0.03},{"wave":7428,"flux":0.11},{"wave":7432,"flux":-0.17},{"wave":7436,"flux":-0.01},{"wave":7440,"flux":-0.17},{"wave":7445,"flux":-0.07},{"wave":7449,"flux":-0.20},{"wave":7452,"flux":0.03},{"wave":7456,"flux":-0.20},{"wave":7460,"flux":-0.03},{"wave":7463,"flux":0.20},{"wave":7467,"flux":-0.10},{"wave":7471,"flux":0.01},{"wave":7476,"flux":-0.24},{"wave":7480,"flux":0.03},{"wave":7484,"flux":-0.22},{"wave":7490,"flux":-0.03},{"wave":7493,"flux":-0.11},{"wave":7497,"flux":-0.17},{"wave":7501,"flux":0.07},{"wave":7505,"flux":-0.27},{"wave":7510,"flux":0.03},{"wave":7514,"flux":-0.03},{"wave":7518,"flux":0.40},{"wave":7522,"flux":0.36},{"wave":7527,"flux":0.11},{"wave":7531,"flux":0.00},{"wave":7537,"flux":0.08},{"wave":7541,"flux":-0.07},{"wave":7545,"flux":0.10},{"wave":7548,"flux":-0.25},{"wave":7553,"flux":0.10},{"wave":7558,"flux":-0.17},{"wave":7561,"flux":-0.03},{"wave":7566,"flux":-0.11},{"wave":7571,"flux":0.25},{"wave":7574,"flux":-0.07},{"wave":7579,"flux":0.11},{"wave":7583,"flux":-0.14},{"wave":7587,"flux":-0.03},{"wave":7591,"flux":0.27},{"wave":7595,"flux":-0.35},{"wave":7600,"flux":0.28},{"wave":7604,"flux":0.27},{"wave":7608,"flux":0.28},{"wave":7613,"flux":0.13},{"wave":7618,"flux":0.71},{"wave":7623,"flux":0.24},{"wave":7627,"flux":0.17},{"wave":7631,"flux":0.20},{"wave":7636,"flux":-0.53},{"wave":7641,"flux":0.03},{"wave":7646,"flux":-0.27},{"wave":7650,"flux":0.23},{"wave":7654,"flux":0.03},{"wave":7659,"flux":0.06},{"wave":7664,"flux":0.23},{"wave":7669,"flux":-0.27},{"wave":7674,"flux":0.01},{"wave":7678,"flux":-0.01},{"wave":7683,"flux":0.18},{"wave":7689,"flux":-0.17},{"wave":7693,"flux":-0.41},{"wave":7698,"flux":-0.17},{"wave":7702,"flux":0.11},{"wave":7706,"flux":0.43},{"wave":7710,"flux":-0.17},{"wave":7714,"flux":0.00},{"wave":7719,"flux":0.36},{"wave":7724,"flux":0.04},{"wave":7729,"flux":0.13},{"wave":7733,"flux":-0.14},{"wave":7737,"flux":0.08},{"wave":7741,"flux":0.27},{"wave":7745,"flux":0.75},{"wave":7751,"flux":0.00},{"wave":7755,"flux":-0.47},{"wave":7761,"flux":-0.24},{"wave":7765,"flux":-0.14},{"wave":7770,"flux":-0.14},{"wave":7775,"flux":0.39},{"wave":7779,"flux":-0.03},{"wave":7785,"flux":-0.17},{"wave":7788,"flux":-0.22},{"wave":7792,"flux":-0.43},{"wave":7796,"flux":-0.28},
      {"wave":7801,"flux":-0.03},{"wave":7804,"flux":-0.17},{"wave":7807,"flux":-0.38},{"wave":7811,"flux":-0.03},{"wave":7815,"flux":0.40},{"wave":7819,"flux":-0.03},{"wave":7824,"flux":0.04},{"wave":7828,"flux":-0.31},{"wave":7834,"flux":-0.56},{"wave":7838,"flux":0.08},{"wave":7842,"flux":-0.20},{"wave":7845,"flux":0.05},{"wave":7850,"flux":-0.53},{"wave":7853,"flux":-0.17},{"wave":7857,"flux":-0.20},{"wave":7862,"flux":0.39},{"wave":7866,"flux":0.00},{"wave":7870,"flux":-0.25},{"wave":7874,"flux":0.32},{"wave":7878,"flux":-0.03},{"wave":7882,"flux":-0.34},{"wave":7886,"flux":0.18},{"wave":7890,"flux":-0.17},{"wave":7893,"flux":-0.48},{"wave":7897,"flux":-0.03},{"wave":7901,"flux":0.18},{"wave":7904,"flux":-0.45},{"wave":7909,"flux":0.03},{"wave":7912,"flux":0.17},{"wave":7916,"flux":0.17},{"wave":7920,"flux":-0.12},{"wave":7925,"flux":-0.08},{"wave":7929,"flux":-0.15},{"wave":7933,"flux":-0.21},{"wave":7938,"flux":-0.10},{"wave":7941,"flux":-0.20},{"wave":7944,"flux":-0.61},{"wave":7948,"flux":-0.17},{"wave":7952,"flux":-0.12},{"wave":7956,"flux":-0.68},{"wave":7960,"flux":-0.16},{"wave":7964,"flux":-0.17},{"wave":7968,"flux":-0.23},{"wave":7971,"flux":-0.36},{"wave":7974,"flux":-0.03},{"wave":7977,"flux":0.01},{"wave":7981,"flux":0.06},{"wave":7985,"flux":0.08},{"wave":7989,"flux":0.07},{"wave":7993,"flux":0.11},{"wave":7997,"flux":0.04},{"wave":8000,"flux":-0.20},{"wave":8005,"flux":-0.21},{"wave":8008,"flux":0.09},{"wave":8011,"flux":-0.26},{"wave":8015,"flux":-0.10},{"wave":8019,"flux":-0.11},{"wave":8023,"flux":-0.34},{"wave":8027,"flux":0.04},{"wave":8031,"flux":0.03},{"wave":8035,"flux":-0.27},{"wave":8038,"flux":-0.06},{"wave":8042,"flux":-0.17},{"wave":8046,"flux":-0.06},{"wave":8050,"flux":0.13},{"wave":8054,"flux":-0.09},{"wave":8058,"flux":-0.14},{"wave":8062,"flux":-0.39},{"wave":8066,"flux":0.05},{"wave":8070,"flux":-0.27},{"wave":8074,"flux":-0.07},{"wave":8078,"flux":-0.10},{"wave":8082,"flux":-0.22},{"wave":8086,"flux":-0.11},{"wave":8090,"flux":-0.17},{"wave":8093,"flux":-0.10},{"wave":8098,"flux":-0.38},{"wave":8101,"flux":-0.36},{"wave":8105,"flux":0.00},{"wave":8109,"flux":0.03},{"wave":8113,"flux":0.07},{"wave":8117,"flux":0.27},{"wave":8121,"flux":0.00},{"wave":8125,"flux":-0.03},{"wave":8129,"flux":-0.32},{"wave":8133,"flux":-0.06},{"wave":8137,"flux":0.24},{"wave":8140,"flux":0.00},{"wave":8145,"flux":-0.03},{"wave":8149,"flux":-0.03},{"wave":8153,"flux":-0.20},{"wave":8157,"flux":0.07},{"wave":8161,"flux":0.00},{"wave":8165,"flux":-0.11},{"wave":8169,"flux":-0.08},{"wave":8173,"flux":-0.16},{"wave":8177,"flux":0.04},{"wave":8181,"flux":0.15},{"wave":8185,"flux":0.07},{"wave":8189,"flux":-0.08},{"wave":8192,"flux":0.11},{"wave":8196,"flux":0.11},{"wave":8200,"flux":0.04},{"wave":8204,"flux":0.04},{"wave":8208,"flux":-0.17},{"wave":8212,"flux":-0.24},{"wave":8215,"flux":-0.20},{"wave":8219,"flux":-0.22},{"wave":8223,"flux":0.04},{"wave":8228,"flux":0.11},{"wave":8232,"flux":-0.17},{"wave":8237,"flux":-0.30},{"wave":8240,"flux":-0.11},{"wave":8245,"flux":-0.14},{"wave":8249,"flux":0.08},{"wave":8253,"flux":-0.30},{"wave":8256,"flux":-0.13},{"wave":8261,"flux":-0.03},{"wave":8264,"flux":-0.23},{"wave":8268,"flux":0.15},{"wave":8272,"flux":0.00},{"wave":8276,"flux":-0.86},{"wave":8280,"flux":-0.17},{"wave":8284,"flux":0.11},{"wave":8287,"flux":0.09},{"wave":8289,"flux":0.60},{"wave":8294,"flux":-0.17},{"wave":8298,"flux":0.03},{"wave":8302,"flux":0.19},{"wave":8307,"flux":-0.03},{"wave":8311,"flux":-0.17},{"wave":8315,"flux":-0.35},{"wave":8320,"flux":0.01},{"wave":8323,"flux":0.03},{"wave":8327,"flux":0.11},{"wave":8331,"flux":-0.08},{"wave":8335,"flux":0.00},{"wave":8339,"flux":-0.39},{"wave":8343,"flux":-0.03},{"wave":8346,"flux":0.07},{"wave":8350,"flux":-0.11},{"wave":8354,"flux":0.07},{"wave":8359,"flux":-0.45},{"wave":8362,"flux":0.08},{"wave":8366,"flux":0.03},{"wave":8370,"flux":-0.03},{"wave":8374,"flux":0.08},{"wave":8378,"flux":-0.32},{"wave":8382,"flux":0.06},{"wave":8386,"flux":-0.03},{"wave":8390,"flux":-0.11},{"wave":8393,"flux":0.10},{"wave":8397,"flux":0.13},{"wave":8401,"flux":0.11},{"wave":8406,"flux":-0.10},{"wave":8409,"flux":0.32},{"wave":8414,"flux":-0.03},{"wave":8420,"flux":-0.36},{"wave":8424,"flux":-0.03},{"wave":8429,"flux":-0.17},{"wave":8433,"flux":0.07},{"wave":8437,"flux":-0.24},{"wave":8440,"flux":-0.03},{"wave":8444,"flux":-0.17},{"wave":8447,"flux":-0.57},{"wave":8451,"flux":0.20},{"wave":8455,"flux":-0.45},{"wave":8459,"flux":-0.53},{"wave":8464,"flux":0.06},{"wave":8468,"flux":-0.41},{"wave":8472,"flux":0.06},{"wave":8476,"flux":-0.17},{"wave":8481,"flux":-0.11},{"wave":8484,"flux":0.00},{"wave":8488,"flux":0.25},{"wave":8493,"flux":-0.17},{"wave":8497,"flux":-0.50},{"wave":8501,"flux":-0.24},{"wave":8504,"flux":0.03},{"wave":8509,"flux":-0.08},{"wave":8514,"flux":-0.07},{"wave":8517,"flux":-0.18},{"wave":8522,"flux":0.08},{"wave":8527,"flux":-0.18},{"wave":8531,"flux":0.06},{"wave":8534,"flux":-0.17},{"wave":8538,"flux":-0.06},{"wave":8543,"flux":0.15},{"wave":8547,"flux":-0.20},{"wave":8551,"flux":-0.25},{"wave":8556,"flux":-0.07},{"wave":8560,"flux":-0.08},{"wave":8564,"flux":-0.29},{"wave":8569,"flux":-0.17},
      {"wave":8574,"flux":-0.01},{"wave":8577,"flux":-0.22},{"wave":8581,"flux":-0.17},{"wave":8585,"flux":-0.44},{"wave":8590,"flux":-0.27},{"wave":8594,"flux":0.06},{"wave":8598,"flux":-0.31},{"wave":8602,"flux":-0.46},{"wave":8607,"flux":-0.22},{"wave":8611,"flux":-0.38},{"wave":8615,"flux":-0.17},{"wave":8619,"flux":0.22},{"wave":8623,"flux":-0.17},{"wave":8626,"flux":0.08},{"wave":8630,"flux":0.07},{"wave":8634,"flux":-0.17},{"wave":8638,"flux":-0.03},{"wave":8642,"flux":-0.21},{"wave":8646,"flux":-0.24},{"wave":8651,"flux":-0.13},{"wave":8655,"flux":0.19},{"wave":8659,"flux":-0.43},{"wave":8662,"flux":0.06},{"wave":8666,"flux":-0.11},{"wave":8669,"flux":0.08},{"wave":8673,"flux":-0.22},{"wave":8677,"flux":-0.25},{"wave":8682,"flux":-0.22},{"wave":8686,"flux":-0.15},{"wave":8690,"flux":-0.20},{"wave":8695,"flux":-0.17},{"wave":8698,"flux":-0.35},{"wave":8702,"flux":-0.41},{"wave":8706,"flux":-0.07},{"wave":8710,"flux":-0.03},{"wave":8714,"flux":0.16},{"wave":8718,"flux":-0.03},{"wave":8723,"flux":0.08},{"wave":8727,"flux":-0.32},{"wave":8731,"flux":-0.03},{"wave":8735,"flux":-0.25},{"wave":8739,"flux":-0.07},{"wave":8743,"flux":-0.25},{"wave":8746,"flux":0.22},{"wave":8750,"flux":0.25},{"wave":8755,"flux":0.60},{"wave":8759,"flux":-0.03},{"wave":8763,"flux":-0.41},{"wave":8767,"flux":0.04},{"wave":8770,"flux":0.15},{"wave":8774,"flux":-0.22},{"wave":8778,"flux":0.06},{"wave":8782,"flux":-0.31},{"wave":8786,"flux":0.36},{"wave":8790,"flux":-0.08},{"wave":8793,"flux":-0.15},{"wave":8797,"flux":-0.17},{"wave":8801,"flux":-0.06},{"wave":8805,"flux":-0.38},{"wave":8809,"flux":-0.17},{"wave":8812,"flux":-0.28},{"wave":8816,"flux":-0.31},{"wave":8820,"flux":-0.38},{"wave":8823,"flux":-0.17},{"wave":8827,"flux":0.40},{"wave":8832,"flux":0.11},{"wave":8837,"flux":-0.17},{"wave":8840,"flux":-0.45},{"wave":8844,"flux":-0.17},{"wave":8848,"flux":-0.28},{"wave":8852,"flux":0.06},{"wave":8856,"flux":0.27},{"wave":8860,"flux":0.56},{"wave":8864,"flux":-0.28},{"wave":8868,"flux":-0.01},{"wave":8872,"flux":-0.10},{"wave":8876,"flux":-0.17},{"wave":8880,"flux":-0.36},{"wave":8883,"flux":-0.17},{"wave":8887,"flux":-0.01},{"wave":8891,"flux":-0.17},{"wave":8895,"flux":-0.17},{"wave":8899,"flux":-0.24},{"wave":8904,"flux":-0.41},{"wave":8908,"flux":-0.69},{"wave":8912,"flux":0.04},{"wave":8915,"flux":0.61},{"wave":8920,"flux":-0.14},{"wave":8924,"flux":-0.31},{"wave":8928,"flux":-0.15},{"wave":8932,"flux":0.25},{"wave":8935,"flux":0.81},{"wave":8940,"flux":0.22},{"wave":8945,"flux":-0.08},{"wave":8949,"flux":0.27},{"wave":8953,"flux":0.13},{"wave":8957,"flux":-0.17},{"wave":8960,"flux":-0.30},{"wave":8964,"flux":0.19},{"wave":8968,"flux":0.17},{"wave":8972,"flux":-0.08},{"wave":8976,"flux":-0.44},{"wave":8980,"flux":-0.03},{"wave":8984,"flux":0.21},{"wave":8989,"flux":0.07},{"wave":8992,"flux":-0.03},{"wave":8996,"flux":0.61},{"wave":9000,"flux":-0.06},{"wave":9004,"flux":-0.17},{"wave":9007,"flux":-0.11},{"wave":9011,"flux":0.08},{"wave":9015,"flux":-0.17},{"wave":9019,"flux":-0.20},{"wave":9023,"flux":-0.40},{"wave":9027,"flux":-0.17},{"wave":9031,"flux":0.43},{"wave":9035,"flux":0.11},{"wave":9039,"flux":-0.10},{"wave":9043,"flux":-0.43},{"wave":9047,"flux":0.25},{"wave":9051,"flux":-0.03},{"wave":9054,"flux":-0.03},{"wave":9058,"flux":-0.07},{"wave":9062,"flux":-0.42},{"wave":9066,"flux":-0.06},{"wave":9070,"flux":0.00},{"wave":9074,"flux":-0.01},{"wave":9078,"flux":-0.08},{"wave":9082,"flux":0.34},{"wave":9086,"flux":0.14},{"wave":9090,"flux":-0.17},{"wave":9094,"flux":0.53},{"wave":9098,"flux":-0.08},{"wave":9101,"flux":0.00},{"wave":9105,"flux":0.23},{"wave":9109,"flux":-0.25},{"wave":9113,"flux":-0.31},{"wave":9117,"flux":0.21},{"wave":9121,"flux":0.11},{"wave":9125,"flux":0.25},{"wave":9129,"flux":0.03},{"wave":9133,"flux":0.11},{"wave":9137,"flux":0.25},{"wave":9141,"flux":-0.17},{"wave":9145,"flux":0.17},{"wave":9148,"flux":0.07},{"wave":9152,"flux":0.54},{"wave":9156,"flux":-0.17},{"wave":9160,"flux":-0.45},{"wave":9164,"flux":-0.10},{"wave":9168,"flux":-0.47},{"wave":9172,"flux":-0.17},{"wave":9176,"flux":-0.41},{"wave":9180,"flux":-0.22},{"wave":9184,"flux":0.08},{"wave":9188,"flux":-0.31},{"wave":9192,"flux":-0.11},{"wave":9195,"flux":-0.32},{"wave":9199,"flux":0.01},{"wave":9203,"flux":-0.17},{"wave":9207,"flux":-0.17},{"wave":9211,"flux":0.20},{"wave":9215,"flux":-0.17},{"wave":9219,"flux":-0.36},{"wave":9223,"flux":-0.03},{"wave":9227,"flux":0.17},{"wave":9231,"flux":-0.17},{"wave":9235,"flux":-0.01},{"wave":9239,"flux":-0.79},{"wave":9244,"flux":-0.53},{"wave":9248,"flux":-0.08},{"wave":9252,"flux":0.39},{"wave":9255,"flux":0.46},{"wave":9259,"flux":0.19},{"wave":9263,"flux":0.03},{"wave":9267,"flux":-0.17},{"wave":9271,"flux":0.06},{"wave":9275,"flux":-0.22},{"wave":9279,"flux":0.34},{"wave":9283,"flux":0.40},{"wave":9287,"flux":0.06},{"wave":9291,"flux":-0.17},{"wave":9295,"flux":-0.36},{"wave":9299,"flux":-0.25}
    ]
  },
  "layer": [
    {
      "data": {"name": "noise"},
      "mark": {"type": "line", "color": "#008000", "strokeWidth": 1.5, "clip": true},
      "encoding": {
        "x": {"field": "wave", "type": "quantitative", "scale": {"domain": [4747, 9300], "nice": false, "zero": false}, "axis": {"values": [5000, 6000, 7000, 8000, 9000], "format": "d"}, "title": "Wavelength"},
        "y": {"field": "noise", "type": "quantitative", "scale": {"domain": [-0.953, 1.225], "nice": false, "zero": false}, "axis": {"values": [-0.75, -0.5, -0.25, 0, 0.25, 0.5, 0.75, 1.0], "format": ".2f"}, "title": "10⁻¹⁸ erg s⁻¹ cm⁻² Å⁻¹"}
      }
    },
    {
      "data": {"values": [{"level": 0}]},
      "mark": {"type": "rule", "color": "#0000ff", "strokeWidth": 5},
      "encoding": {
        "y": {"field": "level", "type": "quantitative", "scale": {"domain": [-0.953, 1.225], "nice": false, "zero": false}, "axis": {"values": [-0.75, -0.5, -0.25, 0, 0.25, 0.5, 0.75, 1.0], "format": ".2f"}, "title": "10⁻¹⁸ erg s⁻¹ cm⁻² Å⁻¹"}
      }
    },
    {
      "data": {"name": "flux"},
      "mark": {"type": "line", "color": "#000000", "strokeWidth": 4, "clip": true, "strokeJoin": "round"},
      "encoding": {
        "x": {"field": "wave", "type": "quantitative", "scale": {"domain": [4747, 9300], "nice": false, "zero": false}, "axis": {"values": [5000, 6000, 7000, 8000, 9000], "format": "d"}, "title": "Wavelength"},
        "y": {"field": "flux", "type": "quantitative", "scale": {"domain": [-0.953, 1.225], "nice": false, "zero": false}, "axis": {"values": [-0.75, -0.5, -0.25, 0, 0.25, 0.5, 0.75, 1.0], "format": ".2f"}, "title": "10⁻¹⁸ erg s⁻¹ cm⁻² Å⁻¹"}
      }
    }
  ]
}
